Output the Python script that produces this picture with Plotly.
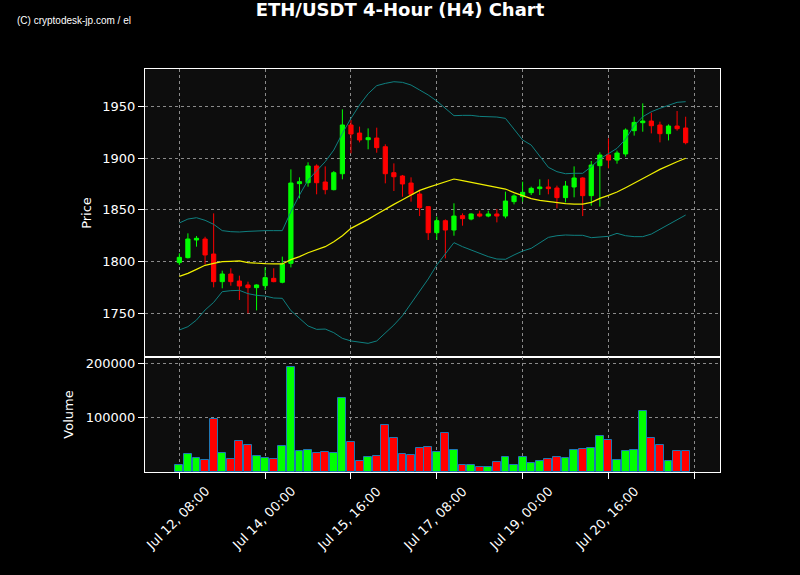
import pandas as pd
import plotly.graph_objects as go
from plotly.subplots import make_subplots

# ---- data ----
times = pd.date_range("2023-07-12 08:00", periods=60, freq="4h")

opens = [1799.0, 1803.8, 1820.9, 1821.8, 1807.3, 1780.6, 1788.0, 1781.2, 1777.4, 1774.8,
         1776.7, 1783.8, 1780.0, 1798.3, 1875.3, 1876.2, 1892.4, 1876.9, 1869.5, 1884.9,
         1932.0, 1924.2, 1917.8, 1919.4, 1911.0, 1885.9, 1882.7, 1875.9, 1865.3, 1853.1,
         1827.9, 1839.5, 1830.5, 1844.4, 1841.1, 1846.0, 1844.0, 1846.0, 1844.0, 1857.9,
         1862.7, 1866.6, 1870.5, 1872.1, 1871.1, 1861.8, 1872.1, 1880.8, 1863.7, 1892.7,
         1903.0, 1898.1, 1904.0, 1926.5, 1934.2, 1935.8, 1932.0, 1923.6, 1931.0, 1929.1]
highs = [1808.0, 1827.3, 1824.7, 1824.0, 1846.6, 1791.2, 1793.5, 1786.4, 1780.6, 1778.0,
         1794.4, 1793.5, 1804.8, 1889.1, 1881.4, 1895.9, 1894.0, 1892.0, 1887.5, 1947.1,
         1936.8, 1930.4, 1928.7, 1929.4, 1913.3, 1894.9, 1883.7, 1881.4, 1869.2, 1853.5,
         1843.4, 1840.8, 1856.3, 1846.6, 1846.6, 1849.2, 1849.2, 1850.8, 1867.6, 1865.0,
         1877.2, 1872.4, 1879.5, 1879.5, 1873.4, 1877.9, 1892.0, 1881.5, 1897.2, 1905.6,
         1919.1, 1907.2, 1928.7, 1940.0, 1952.9, 1943.9, 1935.2, 1932.6, 1945.5, 1940.0]
lows = [1796.7, 1803.0, 1814.4, 1797.3, 1775.1, 1774.2, 1776.7, 1762.9, 1750.0, 1752.9,
        1772.5, 1780.0, 1779.0, 1794.4, 1861.1, 1872.4, 1865.0, 1865.0, 1868.8, 1879.5,
        1904.6, 1915.2, 1908.5, 1905.2, 1875.6, 1868.2, 1862.7, 1857.9, 1844.0, 1820.9,
        1820.9, 1803.1, 1825.0, 1834.7, 1839.9, 1842.8, 1842.8, 1837.9, 1841.8, 1855.3,
        1857.9, 1864.3, 1864.3, 1865.0, 1851.4, 1857.2, 1862.1, 1844.0, 1854.0, 1853.1,
        1890.1, 1894.6, 1901.4, 1921.7, 1925.5, 1923.9, 1915.2, 1917.1, 1926.5, 1913.3]
closes = [1804.1, 1821.8, 1822.5, 1806.4, 1780.6, 1788.0, 1780.6, 1776.4, 1774.8, 1777.4,
          1784.5, 1780.6, 1797.7, 1875.9, 1877.2, 1892.4, 1876.2, 1869.5, 1885.9, 1932.0,
          1923.3, 1917.5, 1919.7, 1910.1, 1884.9, 1882.0, 1875.0, 1865.0, 1852.1, 1827.9,
          1839.5, 1830.5, 1844.0, 1841.5, 1846.0, 1844.0, 1846.0, 1844.0, 1858.5, 1863.4,
          1866.9, 1870.8, 1872.1, 1870.5, 1861.8, 1873.0, 1880.8, 1863.7, 1893.3, 1903.0,
          1898.1, 1904.9, 1927.1, 1934.5, 1935.8, 1931.3, 1923.6, 1931.0, 1928.4, 1914.9]
volumes = [12100, 32700, 26700, 21800, 98200, 34500, 24800, 56400, 49100, 29100,
           25500, 23600, 47300, 192700, 38200, 40000, 34500, 36400, 34500, 136400,
           54500, 20000, 27300, 29100, 86100, 63600, 33300, 30900, 43600, 45500,
           36400, 72700, 40000, 12700, 12700, 9100, 8500, 18200, 27300, 12700,
           27300, 16400, 21200, 23600, 27300, 25500, 40000, 41800, 43600, 65500,
           58200, 21800, 38200, 40000, 112700, 61800, 49100, 20000, 38200, 38200]
bb_mid = [1785.7, 1788.6, 1792.5, 1796.4, 1798.3, 1799.9, 1800.2, 1800.6, 1799.0, 1798.3,
          1798.0, 1797.7, 1797.7, 1801.9, 1804.8, 1808.6, 1811.2, 1814.4, 1819.2, 1825.0,
          1832.1, 1836.3, 1840.8, 1845.7, 1850.8, 1855.3, 1859.8, 1864.3, 1868.8, 1871.7,
          1874.3, 1876.9, 1879.8, 1878.2, 1876.6, 1874.6, 1873.0, 1871.7, 1870.1, 1866.6,
          1863.7, 1860.8, 1859.2, 1857.9, 1856.6, 1856.0, 1855.6, 1855.6, 1857.2, 1861.1,
          1864.0, 1867.2, 1871.4, 1875.6, 1880.1, 1884.6, 1889.1, 1893.0, 1896.5, 1899.8]
bb_upper = [1837.3, 1841.1, 1842.4, 1839.9, 1836.0, 1829.9, 1828.9, 1828.6, 1829.2, 1829.9,
            1829.9, 1829.9, 1829.9, 1848.2, 1864.3, 1878.8, 1887.5, 1896.5, 1907.8, 1923.9,
            1938.4, 1951.3, 1962.2, 1970.0, 1972.2, 1973.8, 1973.2, 1970.6, 1965.8, 1961.0,
            1955.2, 1948.1, 1941.0, 1941.3, 1941.3, 1940.3, 1940.0, 1939.7, 1938.4, 1928.1,
            1917.5, 1912.6, 1901.4, 1891.1, 1886.9, 1884.9, 1885.3, 1885.3, 1891.7, 1899.1,
            1904.3, 1909.4, 1918.4, 1931.3, 1940.0, 1944.8, 1948.1, 1951.3, 1953.9, 1954.5]
bb_lower = [1733.9, 1737.1, 1743.5, 1753.2, 1760.6, 1770.9, 1771.9, 1772.2, 1769.0, 1767.4,
            1766.7, 1764.8, 1764.5, 1752.6, 1745.2, 1737.8, 1734.5, 1734.8, 1731.3, 1725.8,
            1723.3, 1722.0, 1721.0, 1723.3, 1730.7, 1738.7, 1747.7, 1759.7, 1771.9, 1783.2,
            1796.7, 1807.7, 1818.3, 1814.4, 1811.2, 1807.7, 1804.8, 1802.5, 1802.2, 1806.4,
            1810.2, 1812.8, 1818.3, 1823.4, 1825.0, 1825.7, 1825.4, 1825.4, 1823.1, 1823.8,
            1824.4, 1827.3, 1825.0, 1824.1, 1824.1, 1826.6, 1831.2, 1836.6, 1840.8, 1845.0]

tick_times = ["2023-07-12 08:00", "2023-07-14 00:00", "2023-07-15 16:00", "2023-07-17 08:00",
              "2023-07-19 00:00", "2023-07-20 16:00", "2023-07-22 08:00"]
tick_labels = ["Jul 12, 08:00", "Jul 14, 00:00", "Jul 15, 16:00", "Jul 17, 08:00",
               "Jul 19, 00:00", "Jul 20, 16:00", ""]

GREEN = "#00ff00"
RED = "#ff0000"
vol_colors = [GREEN if c >= o else RED for o, c in zip(opens, closes)]

fig = make_subplots(rows=2, cols=1, shared_xaxes=True, vertical_spacing=0)

fig.add_trace(go.Scatter(x=times, y=bb_upper, mode="lines",
                         line=dict(color="#0f8080", width=1), hoverinfo="skip"), row=1, col=1)
fig.add_trace(go.Scatter(x=times, y=bb_lower, mode="lines",
                         line=dict(color="#0f8080", width=1), hoverinfo="skip"), row=1, col=1)
fig.add_trace(go.Scatter(x=times, y=bb_mid, mode="lines",
                         line=dict(color="#f0f000", width=1.2), hoverinfo="skip"), row=1, col=1)
fig.add_trace(go.Candlestick(x=times, open=opens, high=highs, low=lows, close=closes,
                             increasing=dict(line=dict(color=GREEN, width=1), fillcolor=GREEN),
                             decreasing=dict(line=dict(color=RED, width=1), fillcolor=RED),
                             whiskerwidth=0), row=1, col=1)
fig.add_trace(go.Bar(x=times, y=volumes, marker=dict(color=vol_colors,
                                                     line=dict(color="#1f77b4", width=1)),
                     width=4 * 3600 * 1000 * 0.92), row=2, col=1)

FONT = "DejaVu Sans"
xr = ["2023-07-11 16:00", "2023-07-22 20:00"]
axis_common = dict(showline=True, linecolor="white", linewidth=1, mirror=True,
                   showgrid=True, gridcolor="#8a8a8a", griddash="dot", gridwidth=1,
                   zeroline=False, tickfont=dict(family=FONT, size=13, color="white"),
                   tickcolor="white", ticklen=6, ticks="outside")

fig.update_layout(
    width=800, height=575,
    paper_bgcolor="black", plot_bgcolor="#0d0d0d",
    margin=dict(l=145, r=80, t=69, b=103),
    showlegend=False,
    boxgap=0.3,
    bargap=0,
    title=dict(text="<b>ETH/USDT 4-Hour (H4) Chart</b>", x=0.5, xref="container",
               y=1 - 10 / 575, yref="container", yanchor="middle", xanchor="center",
               font=dict(family=FONT, size=18, color="white")),
    font=dict(family=FONT, color="white"),
)
vol_frac = 115 / 403
fig.update_yaxes(domain=[vol_frac, 1], row=1, col=1)
fig.update_yaxes(domain=[0, vol_frac], row=2, col=1)

fig.update_xaxes(**axis_common, range=xr, tickvals=tick_times, ticktext=tick_labels)
fig.update_xaxes(showticklabels=False, ticks="", rangeslider=dict(visible=False), row=1, col=1)
fig.update_xaxes(showticklabels=False, row=2, col=1)

# rotated tick labels centred under their ticks
for tv, tl in zip(tick_times, tick_labels):
    if tl:
        fig.add_annotation(text=tl, x=tv, xref="x2", y=(472 - 518) / 403, yref="paper",
                           xanchor="center", yanchor="middle", textangle=-45, xshift=-2,
                           showarrow=False, font=dict(family=FONT, size=13, color="white"))

fig.update_yaxes(**axis_common)
fig.update_yaxes(range=[1707.8, 1986.1], tickvals=[1750, 1800, 1850, 1900, 1950],
                 title=dict(text="Price", font=dict(family=FONT, size=13, color="white"), standoff=7),
                 row=1, col=1)
fig.update_yaxes(range=[0, 212000], tickvals=[100000, 200000], tickformat="d",
                 title=dict(text="Volume", font=dict(family=FONT, size=13, color="white"), standoff=9),
                 row=2, col=1)

fig.add_annotation(text="(C) cryptodesk-jp.com / el", xref="paper", yref="paper",
                   x=(15 - 145) / 575, y=(472 - 21) / 403, xanchor="left", yanchor="middle",
                   showarrow=False, font=dict(family="Liberation Sans", size=10, color="white"))

fig.write_html("out.html", config={"displayModeBar": False},
               post_script="document.body.style.margin='0';document.body.style.overflow='hidden';")
